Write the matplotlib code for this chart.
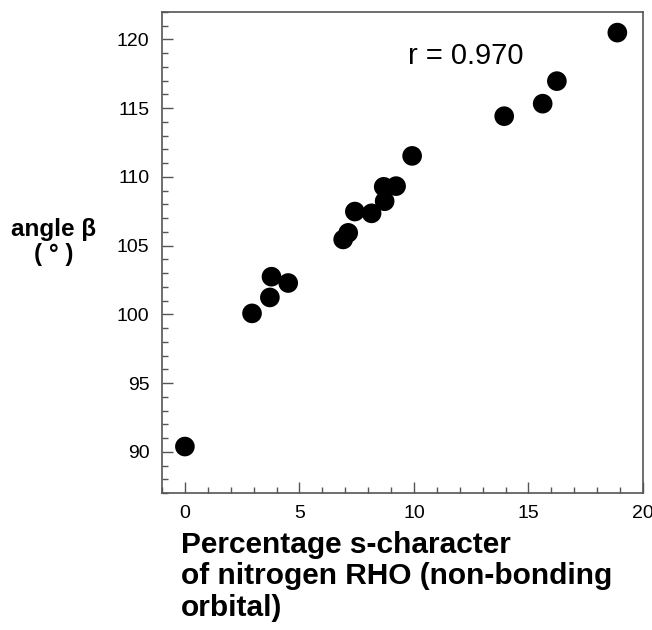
import matplotlib
matplotlib.use("Agg")
import matplotlib.pyplot as plt
from matplotlib.ticker import MultipleLocator

# percentage s-character of nitrogen RHO vs angle beta
s_char = [0.0, 2.93, 3.71, 3.78, 4.51, 6.91, 7.13, 7.42, 8.15, 8.72,
          8.68, 9.22, 9.92, 13.94, 15.62, 16.24, 18.88]
beta = [90.38, 100.07, 101.23, 102.74, 102.28, 105.45, 105.93, 107.48, 107.35, 108.23,
        109.28, 109.33, 111.53, 114.42, 115.33, 116.97, 120.5]
x_ticks = [0, 5, 10, 15, 20]
y_ticks = [90, 95, 100, 105, 110, 115, 120]
r_text = "r = 0.970"

FONT = ["Liberation Sans", "DejaVu Sans"]
GRAY = "#555555"

plt.rcParams["font.family"] = FONT

fig = plt.figure(figsize=(6.52, 6.30), dpi=100)
ax = fig.add_axes([162 / 652, 1 - 493 / 630, (643 - 162) / 652, (493 - 12) / 630])

ax.scatter(s_char, beta, s=200, color="black", edgecolors="none", zorder=3)

ax.set_xlim(-1, 20)
ax.set_ylim(87, 122)
ax.set_xticks(x_ticks)
ax.set_yticks(y_ticks)
ax.xaxis.set_minor_locator(MultipleLocator(1))
ax.yaxis.set_minor_locator(MultipleLocator(1))
ax.tick_params(which="both", direction="in", color=GRAY, width=1.0,
               top=False, right=False, labelsize=14, pad=9)
ax.tick_params(which="major", length=8)
ax.tick_params(which="minor", length=4)
for sp in ax.spines.values():
    sp.set_color(GRAY)
    sp.set_linewidth(1.2)

ax.text(9.74, 118.83, r_text, fontsize=21, ha="left", va="center")

fig.text(54 / 652, 1 - 242 / 630, "angle β\n( ° )", fontsize=17.5, fontweight="bold",
         ha="center", va="center", multialignment="center", linespacing=1.1)
fig.text(181 / 652, 1 - 531 / 630,
         "Percentage s-character\nof nitrogen RHO (non-bonding\norbital)",
         fontsize=21.5, fontweight="bold", ha="left", va="top", linespacing=1.15)

fig.savefig("out.png", dpi=100)
